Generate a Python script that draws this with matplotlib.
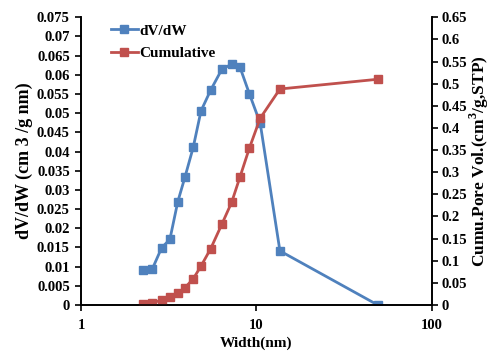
import matplotlib
matplotlib.use("Agg")
from matplotlib import pyplot as plt
from matplotlib.ticker import FixedLocator, FixedFormatter, NullLocator

width_nm = [2.26, 2.55, 2.88, 3.21, 3.56, 3.91, 4.36, 4.83, 5.48, 6.34,
            7.22, 8.05, 9.12, 10.5, 13.6, 49.1]
dv_dw = [0.0091, 0.0094, 0.0149, 0.0171, 0.0269, 0.0333, 0.0411, 0.0506,
         0.0560, 0.0614, 0.0628, 0.0620, 0.0550, 0.0474, 0.0141, 0.0]
cumulative = [0.002, 0.005, 0.011, 0.017, 0.026, 0.039, 0.059, 0.088,
              0.127, 0.182, 0.232, 0.289, 0.355, 0.422, 0.488, 0.510]

left_ticks = [i * 0.005 for i in range(16)]
left_labels = ["0", "0.005", "0.01", "0.015", "0.02", "0.025", "0.03", "0.035",
               "0.04", "0.045", "0.05", "0.055", "0.06", "0.065", "0.07", "0.075"]
right_ticks = [i * 0.05 for i in range(14)]
right_labels = ["0", "0.05", "0.1", "0.15", "0.2", "0.25", "0.3", "0.35",
                "0.4", "0.45", "0.5", "0.55", "0.6", "0.65"]

blue = "#4F81BD"
red = "#C0504D"

plt.rcParams["font.family"] = "Liberation Serif"
plt.rcParams["font.weight"] = "bold"
plt.rcParams["mathtext.fontset"] = "custom"
plt.rcParams["mathtext.rm"] = "Liberation Serif:bold"
plt.rcParams["mathtext.bf"] = "Liberation Serif:bold"

fig = plt.figure(figsize=(4.95, 3.53), dpi=100)
ax1 = fig.add_axes([0.1636, 0.136, 0.7091, 0.815])
ax2 = ax1.twinx()

l1, = ax1.plot(width_nm, dv_dw, color=blue, lw=2, marker="s", ms=6,
               label="dV/dW")
l2, = ax2.plot(width_nm, cumulative, color=red, lw=2, marker="s", ms=6,
               label="Cumulative")

ax1.set_xscale("log")
ax1.set_xlim(1, 100)
ax1.xaxis.set_major_locator(FixedLocator([1, 10, 100]))
ax1.xaxis.set_major_formatter(FixedFormatter(["1", "10", "100"]))
ax1.xaxis.set_minor_locator(NullLocator())

ax1.set_ylim(0, 0.075)
ax1.yaxis.set_major_locator(FixedLocator(left_ticks))
ax1.yaxis.set_major_formatter(FixedFormatter(left_labels))
ax2.set_ylim(0, 0.65)
ax2.yaxis.set_major_locator(FixedLocator(right_ticks))
ax2.yaxis.set_major_formatter(FixedFormatter(right_labels))

for ax in (ax1, ax2):
    ax.spines["top"].set_visible(False)
    for s in ax.spines.values():
        s.set_linewidth(1.2)
    ax.tick_params(direction="out", length=4, width=1.2, labelsize=10.5)
ax1.tick_params(axis="y", pad=4)
ax1.tick_params(axis="x", pad=6)
ax2.tick_params(axis="y", pad=3)

ax1.set_xlabel("Width(nm)", fontsize=11, fontweight="bold", labelpad=3)
ax1.set_ylabel("dV/dW (cm 3 /g nm)", fontsize=13, fontweight="bold", labelpad=3)
ax2.set_ylabel("Cumu.Pore Vol.(cm$^{3}$/g,STP)", fontsize=12.5,
               fontweight="bold", labelpad=0)

ax1.legend(handles=[l1, l2], loc="upper left", bbox_to_anchor=(0.045, 1.025),
           frameon=False, fontsize=11, handlelength=1.8, handletextpad=0.1,
           labelspacing=0.6)

plt.savefig("out.png", dpi=100)
